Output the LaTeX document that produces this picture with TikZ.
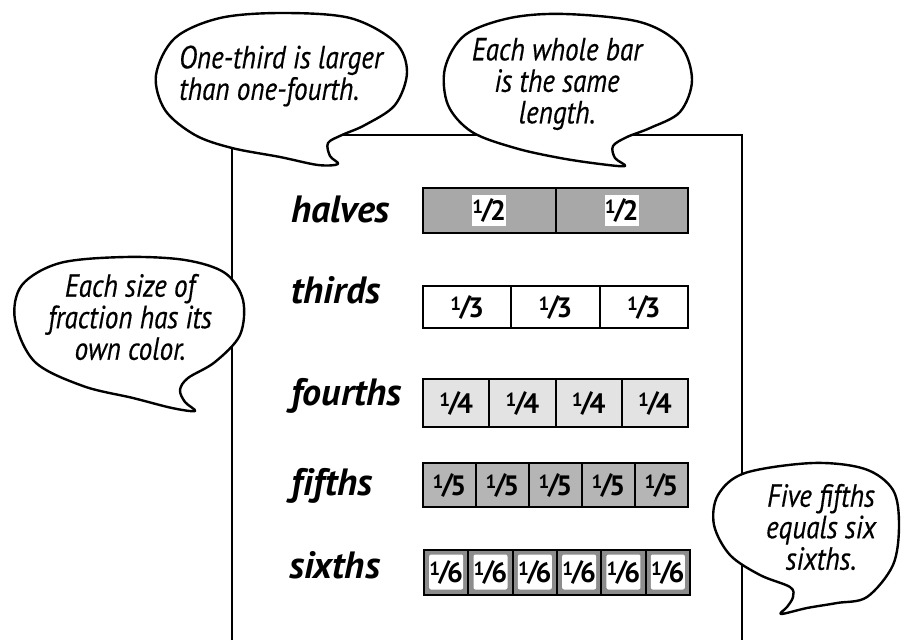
\documentclass[tikz,border=0pt]{standalone}
\usepackage{fontspec}
\newfontfamily\bubfont[FakeStretch=0.85,FakeBold=0.4]{PT Sans}
\newfontfamily\labfont[Ligatures=NoCommon]{PT Sans}
\newfontfamily\fracfont{PT Sans}
\newcommand\myfr[1]{{\fracfont\bfseries\raisebox{5pt}{\fontsize{19}{19}\selectfont 1}\kern-1.5pt{\fontsize{28}{28}\selectfont/}\kern-3pt\raisebox{-2pt}{\fontsize{28}{28}\selectfont #1}}}
\begin{document}
\begin{tikzpicture}[x=1pt,y=-1pt,
  bub/.style={draw=black, line width=2.4pt, fill=white, line join=round},
  btext/.style={font=\bubfont\itshape\fontsize{32}{31.5}\selectfont, inner sep=0pt},
  lab/.style={anchor=base west, font=\labfont\bfseries\itshape\fontsize{38}{38}\selectfont, inner sep=0pt},
  cell/.style={draw=black, line width=2pt, inner sep=0pt, minimum height=45pt},
  wbox/.style={fill=white, inner sep=0pt, minimum width=31pt, minimum height=31pt},
  panel/.style={line width=2.4pt}
]
\useasboundingbox (0,0) rectangle (901,640);
% panel
\coordinate (pbl) at (232,640);
\coordinate (ptl) at (232,135);
\coordinate (ptr) at (742,135);
\coordinate (pbr) at (742,640);
\draw[panel] (pbl) -- (ptl) -- (ptr) -- (pbr);

% labels
\node[lab] (lh) at (291,222) {halves};
\node[lab] (lt) at (291,303) {thirds};
\node[lab] (lf) at (291,405) {fourths};
\node[lab] (l5) at (291,495) {fifths};
\node[lab] (l6) at (289,578) {sixths};

% halves
\foreach \i in {1,2} {
  \node[cell, fill=gray!68, minimum width=132.5pt] (h\i) at ({423+(\i-0.5)*132.5},210) {};
  \node[wbox] (hf\i) at (h\i) {\myfr{2}};
}
% thirds
\foreach \i in {1,2,3} {
  \node[cell, fill=white, minimum width=88.33pt, minimum height=42pt] (t\i) at ({423+(\i-0.5)*88.33},307) {\myfr{3}};
}
% fourths
\foreach \i in {1,...,4} {
  \node[cell, fill=gray!22, minimum width=66.25pt, minimum height=48pt] (f\i) at ({423+(\i-0.5)*66.25},403) {\myfr{4}};
}
% fifths
\foreach \i in {1,...,5} {
  \node[cell, fill=gray!58, minimum width=53pt, minimum height=44pt] (v\i) at ({423+(\i-0.5)*53},485) {\myfr{5}};
}
% sixths
\foreach \i in {1,...,6} {
  \node[cell, fill=gray!90, minimum width=44.33pt] (s\i) at ({424+(\i-0.5)*44.33},572) {};
  \node[wbox, minimum width=34pt, minimum height=35pt, rounded corners=2pt] (sf\i) at (s\i) {\myfr{6}};
}

% bubble 1
\draw[bub] plot[smooth cycle, tension=0.55] coordinates {
 (282,13) (350,18) (395,42) (407,72) (395,105) (365,125) (342,135) (328,143) (330,156) (338,164)
 (318,165) (280,157) (232,148) (195,135) (165,110) (156,75) (175,38) (220,18)};
\node[btext, align=left] (b1) at (281,76) {One-third is larger\\than one-fourth.};

% bubble 2
\draw[bub] plot[smooth cycle, tension=0.55] coordinates {
 (565,14) (640,22) (680,45) (692,80) (680,112) (650,128) (627,137) (613,146) (615,158) (625,166)
 (600,164) (560,158) (515,148) (472,132) (448,105) (445,68) (465,35) (510,18)};
\node[btext, align=center] (b2) at (557,84) {Each whole bar\\is the same\\length.};

% bubble 3
\draw[bub] plot[smooth cycle, tension=0.55] coordinates {
 (125,257) (185,260) (225,273) (243,300) (240,335) (215,362) (188,378) (180,390) (185,402) (195,411)
 (172,408) (133,398) (83,386) (35,362) (15,320) (22,285) (60,263)};
\node[btext, align=center] (b3) at (130,317) {Each size of\\fraction has its\\own color.};

% bubble 4
\draw[bub] plot[smooth cycle, tension=0.55] coordinates {
 (813,463) (865,469) (893,490) (899,525) (893,565) (867,597) (837,603) (807,608) (781,614)
 (787,607) (793,597) (790,587) (760,575) (730,555) (714,525) (718,495) (745,473)};
\node[btext, align=center] (b4) at (821,527) {Five fifths\\equals six\\sixths.};
\end{tikzpicture}
\end{document}
